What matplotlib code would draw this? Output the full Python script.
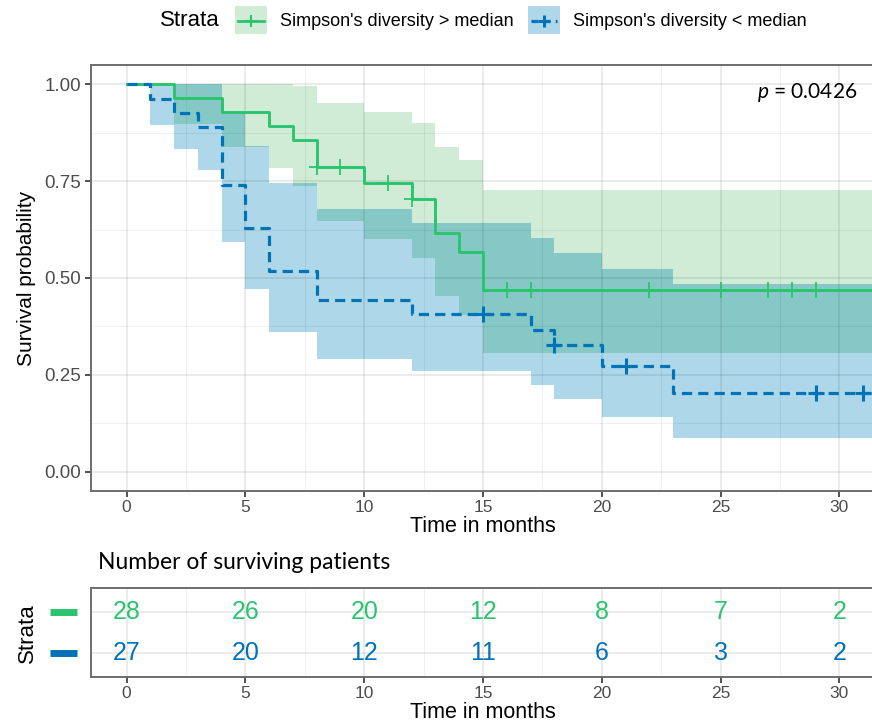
import numpy as np
import matplotlib
matplotlib.use("Agg")
import matplotlib.pyplot as plt
from matplotlib.lines import Line2D
from matplotlib.patches import Rectangle
from matplotlib.transforms import blended_transform_factory

plt.rcParams["font.family"] = ["Liberation Sans", "DejaVu Sans"]
plt.rcParams["mathtext.fontset"] = "custom"
plt.rcParams["mathtext.rm"] = "Lato"
plt.rcParams["mathtext.it"] = "Lato:italic"

GREEN = "#2bc46e"
BLUE = "#0073b8"
GREEN_BAND = "#d1ecd6"
BLUE_BAND = "#aed8e9"
OVERLAP = "#86c8c6"
FRAME = "#6e6e6e"
TICK_TXT = "#4d4d4d"

# Kaplan-Meier, Simpson's diversity > median
g_time = [0, 2, 4, 6, 7, 8, 10, 12, 13, 14, 15, 32]
g_surv = [1, 0.964, 0.929, 0.893, 0.857, 0.786, 0.746, 0.705, 0.617, 0.568, 0.470, 0.470]
g_upper = [1, 1, 1, 1, 0.997, 0.953, 0.928, 0.901, 0.838, 0.804, 0.726, 0.726]
g_lower = [1, 0.898, 0.838, 0.785, 0.737, 0.648, 0.600, 0.552, 0.454, 0.405, 0.307, 0.307]
g_cens = [8, 9, 11, 12, 16, 17, 22, 25, 27, 28, 29]

# Kaplan-Meier, Simpson's diversity < median
b_time = [0, 1, 2, 3, 4, 5, 6, 8, 12, 17, 18, 20, 23, 32]
b_surv = [1, 0.963, 0.926, 0.889, 0.741, 0.630, 0.519, 0.444, 0.407, 0.367, 0.326, 0.272, 0.204, 0.204]
b_upper = [1, 1, 1, 1, 0.926, 0.841, 0.746, 0.678, 0.642, 0.604, 0.565, 0.524, 0.485, 0.485]
b_lower = [1, 0.894, 0.832, 0.778, 0.593, 0.472, 0.361, 0.292, 0.259, 0.223, 0.188, 0.141, 0.086, 0.086]
b_cens = [15, 18, 21, 29, 31]

# number at risk
risk_times = [0, 5, 10, 15, 20, 25, 30]
risk_green = [28, 26, 20, 12, 8, 7, 2]
risk_blue = [27, 20, 12, 11, 6, 3, 2]

strata_labels = ["Simpson's diversity > median", "Simpson's diversity < median"]
p_value = "0.0426"


def step_at(time, vals, t):
    idx = np.searchsorted(np.asarray(time), np.asarray(t), side="right") - 1
    return np.asarray(vals)[idx]


W, H = 872, 727
fig = plt.figure(figsize=(W / 100, H / 100), dpi=100)


def fx(px):
    return px / W


def fy(px):
    return 1 - px / H


ax = fig.add_axes([fx(91), fy(491), 784 / W, 426 / H])
ax_r = fig.add_axes([fx(91), fy(677), 784 / W, 89 / H])


def style_axes(a):
    a.set_xlim(-1.5, 31.5)
    a.set_xticks(range(0, 31, 5))
    a.set_xticks(np.arange(2.5, 31, 5), minor=True)
    a.grid(which="major", color="k", alpha=0.08, lw=1.4)
    a.grid(which="minor", color="k", alpha=0.06, lw=0.8)
    a.set_axisbelow("line")
    for s in a.spines.values():
        s.set_color(FRAME)
        s.set_linewidth(1.4)
    a.tick_params(which="major", length=4.5, width=1.2, color="#333333",
                  labelcolor=TICK_TXT, labelsize=12.5, pad=2)
    a.tick_params(which="minor", length=0)


# --- survival panel ---
style_axes(ax)
ax.set_ylim(-0.05, 1.05)
ax.set_yticks([0, 0.25, 0.5, 0.75, 1.0])
ax.set_yticklabels(["0.00", "0.25", "0.50", "0.75", "1.00"])
ax.set_yticks([0.125, 0.375, 0.625, 0.875], minor=True)
ax.tick_params(axis="y", labelsize=13.5, pad=2.5)

ax.fill_between(g_time, g_lower, g_upper, step="post", color=GREEN_BAND, lw=0, zorder=1)
ax.fill_between(b_time, b_lower, b_upper, step="post", color=BLUE_BAND, lw=0, zorder=1)
grid_t = np.union1d(g_time, b_time)
lo = np.maximum(step_at(g_time, g_lower, grid_t), step_at(b_time, b_lower, grid_t))
hi = np.minimum(step_at(g_time, g_upper, grid_t), step_at(b_time, b_upper, grid_t))
hi = np.maximum(hi, lo)
ax.fill_between(grid_t, lo, hi, step="post", color=OVERLAP, lw=0, zorder=1.1)

ax.step(g_time, g_surv, where="post", color=GREEN, lw=2.1, zorder=3)
ax.step(b_time, b_surv, where="post", color=BLUE, lw=2.3, dashes=(3.2, 1.9), zorder=3)
ax.plot(g_cens, step_at(g_time, g_surv, g_cens), ls="none", marker="+",
        ms=11, mew=1.3, color=GREEN, zorder=4)
ax.plot(b_cens, step_at(b_time, b_surv, b_cens), ls="none", marker="+",
        ms=11, mew=2.2, color=BLUE, zorder=4)

fig.text(fx(857), fy(93), r"$p$ = " + p_value, ha="right", va="center",
         fontsize=15, family="Lato")
fig.text(fx(26), fy(278), "Survival probability", rotation=90,
         ha="center", va="center", fontsize=15)
fig.text(fx(483), fy(527), "Time in months", ha="center", va="center", fontsize=15.5)

# --- legend ---
fig.text(fx(160), fy(21), "Strata", ha="left", va="center", fontsize=16)
for x0, col, lab, dashed in [(235, GREEN, strata_labels[0], False),
                             (528, BLUE, strata_labels[1], True)]:
    band = GREEN_BAND if col == GREEN else BLUE_BAND
    fig.add_artist(Rectangle((fx(x0), fy(34)), 32 / W, 28 / H,
                             transform=fig.transFigure, color=band, lw=0))
    ln = Line2D([fx(x0 + 3), fx(x0 + 29)], [fy(20.7)] * 2, color=col,
                lw=2.0 if not dashed else 2.3, transform=fig.transFigure)
    if dashed:
        ln.set_dashes((2.2, 1.6))
    fig.add_artist(ln)
    fig.add_artist(Line2D([fx(x0 + 16)], [fy(20.7)], marker="+", ms=8,
                          mew=1.5 if not dashed else 2.2, color=col,
                          transform=fig.transFigure))
    fig.text(fx(x0 + 45), fy(21), lab, ha="left", va="center", fontsize=13)

# --- risk table ---
style_axes(ax_r)
ax_r.set_ylim(0.4, 2.6)
ax_r.set_yticks([1, 2])
ax_r.set_yticklabels([])
ax_r.tick_params(axis="y", length=0)
for t, n in zip(risk_times, risk_green):
    ax_r.text(t, 2, str(n), color=GREEN, ha="center", va="center", fontsize=18)
for t, n in zip(risk_times, risk_blue):
    ax_r.text(t, 1, str(n), color=BLUE, ha="center", va="center", fontsize=18)

tr = blended_transform_factory(fig.transFigure, ax_r.transData)
for yv, col in [(2, GREEN), (1, BLUE)]:
    fig.add_artist(Line2D([fx(50), fx(77)], [yv, yv], color=col, lw=5,
                          solid_capstyle="butt", transform=tr))

fig.text(fx(27), fy(633), "Strata", rotation=90, ha="center", va="center", fontsize=16)
fig.text(fx(98), fy(569), "Number of surviving patients", ha="left",
         va="baseline", fontsize=16.5, family="Lato")
fig.text(fx(483), fy(713), "Time in months", ha="center", va="center", fontsize=15.5)

fig.savefig("out.png", dpi=100)
